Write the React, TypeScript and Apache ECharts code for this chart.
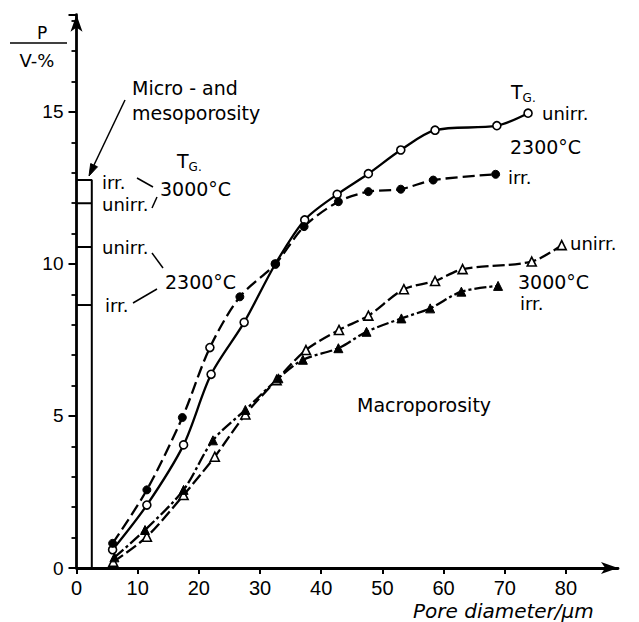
import React, { useEffect, useRef } from "react";
import * as echarts from "echarts";

// Axis ticks / labels
const xTickValues = [0, 10, 20, 30, 40, 50, 60, 70, 80];
const yLabelValues = [0, 5, 10, 15];

// Macroporosity curves: [pore diameter (µm), P (V-%)]
const unirr2300: number[][] = [
  [5.9, 0.6], [11.5, 2.07], [17.5, 4.05], [22.0, 6.37], [27.4, 8.08], [32.5, 10.0],
  [37.3, 11.45], [42.6, 12.29], [47.7, 12.97], [53.0, 13.75], [58.6, 14.4],
  [68.7, 14.55], [73.8, 14.96],
];
const irr2300: number[][] = [
  [5.9, 0.81], [11.5, 2.57], [17.3, 4.95], [21.8, 7.25], [26.7, 8.92], [32.5, 10.0],
  [37.2, 11.23], [42.8, 12.05], [47.7, 12.38], [53.0, 12.46], [58.3, 12.76], [68.5, 12.95],
];
const irr2300OpenIdx = [3];
const unirr3000: number[][] = [
  [6.0, 0.2], [11.5, 1.03], [17.5, 2.4], [22.6, 3.66], [27.6, 5.05], [32.7, 6.18],
  [37.5, 7.17], [42.9, 7.83], [47.7, 8.3], [53.5, 9.17], [58.6, 9.44], [63.1, 9.83],
  [74.4, 10.08], [79.3, 10.62],
];
const irr3000: number[][] = [
  [6.2, 0.35], [11.2, 1.25], [17.5, 2.57], [22.3, 4.2], [27.6, 5.2], [33.0, 6.24],
  [37.0, 6.85], [42.8, 7.23], [47.4, 7.77], [53.1, 8.21], [57.8, 8.54], [62.9, 9.09],
  [68.9, 9.28],
];

// Micro- and mesoporosity bar
const microWidth = 2.5;
const microTop = 12.76; // irr. 3000°C
const microLevels = [12.0, 10.56, 8.65]; // unirr. 3000°C, unirr. 2300°C, irr. 2300°C

const FONT = "DejaVu Sans";
const BLACK = "#000";

function txt(text: string, x: number, y: number, size: number, extra: any = {}) {
  return {
    type: "text",
    x,
    y,
    silent: true,
    style: {
      text,
      fill: BLACK,
      fontSize: size,
      fontFamily: FONT,
      textAlign: extra.align || "left",
      textVerticalAlign: "middle",
      align: extra.align || "left",
      verticalAlign: "middle",
      fontStyle: extra.italic ? "italic" : "normal",
    },
  };
}
function tg(x: number, y: number) {
  return {
    type: "text",
    x,
    y,
    silent: true,
    style: {
      text: "{t|T}{g|G.}",
      fill: BLACK,
      fontFamily: FONT,
      textAlign: "left",
      textVerticalAlign: "middle",
      align: "left",
      verticalAlign: "middle",
      rich: {
        t: { fontSize: 19, fontFamily: FONT, fill: BLACK, verticalAlign: "top", lineHeight: 22 },
        g: {
          fontSize: 12,
          fontFamily: FONT,
          fill: BLACK,
          verticalAlign: "bottom",
          lineHeight: 14,
          padding: [12, 0, 0, 0],
        },
      },
    },
  };
}
function ln(x1: number, y1: number, x2: number, y2: number, w = 1.5) {
  return {
    type: "line",
    silent: true,
    shape: { x1, y1, x2, y2 },
    style: { stroke: BLACK, lineWidth: w },
  };
}

export default function App() {
  const ref = useRef<HTMLDivElement>(null);
  useEffect(() => {
    const chart = echarts.init(ref.current!, null, { renderer: "svg" });

    const openStyle = { color: "#fff", borderColor: BLACK, borderWidth: 1.6 };
    const fillStyle = { color: BLACK, borderColor: BLACK, borderWidth: 1 };

    const curve = (
      name: string,
      data: any[],
      symbol: string,
      open: boolean,
      type: any,
      size: number
    ) => ({
      name,
      type: "line",
      data,
      smooth: 0.3,
      symbol,
      symbolSize: size,
      showSymbol: true,
      lineStyle: { color: BLACK, width: 2.3, type },
      itemStyle: open ? openStyle : fillStyle,
      z: 5,
    });

    const microSeries: any[] = [
      {
        type: "line",
        data: [[0, microTop], [microWidth, microTop], [microWidth, 0]],
        symbol: "none",
        lineStyle: { color: BLACK, width: 2 },
        z: 3,
      },
      ...microLevels.map((v) => ({
        type: "line",
        data: [[0, v], [microWidth, v]],
        symbol: "none",
        lineStyle: { color: BLACK, width: 2 },
        z: 3,
      })),
    ];

    const irr2300Data = irr2300.map((p, i) =>
      irr2300OpenIdx.includes(i) ? { value: p, itemStyle: openStyle } : p
    );

    const graphics: any[] = [
      // y-axis title P / V-%
      txt("P", 42, 33, 17, { align: "center" }),
      ln(10, 43, 67, 43, 1.5),
      txt("V-%", 37, 60, 18, { align: "center" }),
      // Micro- and mesoporosity
      txt("Micro - and", 132, 88, 19),
      txt("mesoporosity", 132, 113, 19),
      ln(125, 100, 94, 165, 1.5),
      {
        type: "polygon",
        silent: true,
        shape: { points: [[89, 176], [97.5, 166.8], [90.7, 163.6]] },
        style: { fill: BLACK, stroke: BLACK, lineWidth: 1 },
      },
      // left labels
      tg(177, 162),
      txt("irr.", 102, 182, 18),
      txt("unirr.", 102, 204, 18),
      txt("3000°C", 160, 189, 19),
      ln(137, 178, 153, 187),
      ln(152, 208, 157, 197),
      txt("unirr.", 102, 247, 18),
      txt("2300°C", 165, 282, 19),
      ln(152, 253, 163, 268),
      txt("irr.", 105, 305, 18),
      ln(133, 303, 157, 289),
      // right labels
      tg(511, 93),
      txt("unirr.", 542, 113, 18),
      txt("2300°C", 510, 147, 19),
      txt("irr.", 508, 177, 18),
      txt("unirr.", 570, 243, 18),
      txt("3000°C", 518, 282, 19),
      txt("irr.", 520, 303, 18),
      txt("Macroporosity", 357, 405, 19),
      txt("Pore diameter/µm", 413, 611, 20, { italic: true }),
    ];

    const option: any = {
      animation: false,
      backgroundColor: "#fff",
      grid: { left: 76.5, right: 21, top: 14.7, bottom: 54, containLabel: false },
      xAxis: {
        type: "value",
        min: 0,
        max: 88.5,
        interval: 10,
        axisLine: {
          show: true,
          onZero: false,
          symbol: ["none", "arrow"],
          symbolSize: [9, 17],
          lineStyle: { color: BLACK, width: 2.8 },
        },
        axisTick: {
          show: true,
          customValues: xTickValues,
          length: 6,
          lineStyle: { color: BLACK, width: 2 },
        },
        axisLabel: {
          customValues: xTickValues,
          color: BLACK,
          fontSize: 20,
          fontFamily: "Liberation Sans",
          margin: 10,
        },
        splitLine: { show: false },
      },
      yAxis: [
        {
          type: "value",
          min: 0,
          max: 18.2,
          interval: 1,
          position: "left",
          axisLine: {
            show: true,
            onZero: false,
            symbol: ["none", "arrow"],
            symbolSize: [9, 17],
            lineStyle: { color: BLACK, width: 2.8 },
          },
          axisTick: {
            show: true,
            length: 5,
            lineStyle: { color: BLACK, width: 1.8 },
          },
          axisLabel: {
            customValues: yLabelValues,
            color: BLACK,
            fontSize: 19,
            fontFamily: "Liberation Sans",
            margin: 13,
            formatter: (v: number) => (v % 5 === 0 && v <= 15 ? String(v) : ""),
          },
          splitLine: { show: false },
        },
        {
          // longer major ticks at every 5 units (no labels, no line)
          type: "value",
          min: 0,
          max: 18.2,
          interval: 5,
          position: "left",
          offset: 0,
          axisLine: { show: false, onZero: false },
          axisTick: {
            show: true,
            length: 8,
            lineStyle: { color: BLACK, width: 2 },
          },
          axisLabel: { show: false },
          splitLine: { show: false },
        },
      ],
      series: [
        ...microSeries,
        curve("unirr. 2300°C", unirr2300, "circle", true, "solid", 8),
        curve("irr. 2300°C", irr2300Data, "circle", false, [12, 5], 8),
        curve("unirr. 3000°C", unirr3000, "triangle", true, [12, 4], 9),
        curve("irr. 3000°C", irr3000, "triangle", false, [12, 3, 3, 3], 9),
      ],
      graphic: graphics,
    };

    chart.setOption(option);
    return () => chart.dispose();
  }, []);
  return (
    <div
      ref={ref}
      style={{ position: "absolute", left: 0, top: 0, width: 639, height: 622 }}
    />
  );
}
